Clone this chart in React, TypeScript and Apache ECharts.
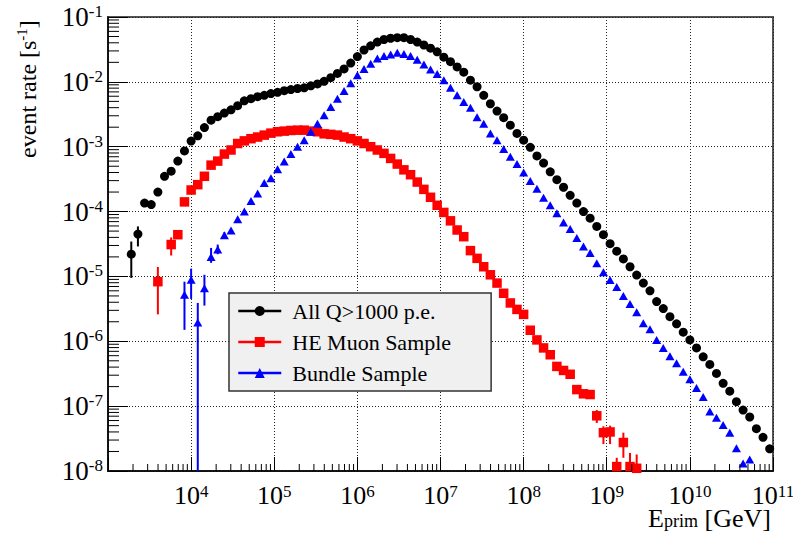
import React, { useEffect, useRef } from "react";
import * as echarts from "echarts";

// Histogram binning: 100 logarithmic bins between 1e3 and 1e11 GeV
const N_BINS = 100;
const LOG_E_MIN = 3;
const LOG_E_MAX = 11;
const X_MIN = 1e3;
const X_MAX = 1e11;
const Y_MIN = 1e-8;
const Y_MAX = 1e-1;

const BIN_CENTER_E = Array.from({ length: N_BINS }, (_, i) =>
  Math.pow(10, LOG_E_MIN + ((i + 0.5) * (LOG_E_MAX - LOG_E_MIN)) / N_BINS)
);

// All Q>1000 p.e. (first filled bin = 3)
const ALL_FIRST_BIN = 3;
const ALL_RATE = [
  2.2e-5, 4.5e-5, 1.35e-4, 1.28e-4, 2.0e-4, 3.5e-4, 4.2e-4, 6.0e-4, 8.6e-4, 1.22e-3,
  1.47e-3, 1.97e-3, 2.57e-3, 2.9e-3, 3.3e-3, 3.7e-3, 4.3e-3, 5.1e-3, 5.5e-3, 5.9e-3,
  6.2e-3, 6.6e-3, 6.9e-3, 7.3e-3, 7.6e-3, 7.9e-3, 8.1e-3, 8.7e-3, 9.3e-3, 1.02e-2,
  1.16e-2, 1.35e-2, 1.58e-2, 1.95e-2, 2.45e-2, 3.1e-2, 3.6e-2, 4.1e-2, 4.5e-2, 4.7e-2,
  4.8e-2, 4.8e-2, 4.5e-2, 4.1e-2, 3.7e-2, 3.3e-2, 2.9e-2, 2.4e-2, 2.05e-2, 1.7e-2,
  1.41e-2, 1.06e-2, 8.4e-3, 6.2e-3, 4.6e-3, 3.55e-3, 2.8e-3, 2.15e-3, 1.6e-3, 1.26e-3,
  9.8e-4, 7.2e-4, 5.6e-4, 4.1e-4, 3.1e-4, 2.37e-4, 1.78e-4, 1.35e-4, 1.0e-4, 7.9e-5,
  5.9e-5, 4.4e-5, 3.2e-5, 2.45e-5, 1.86e-5, 1.41e-5, 1.05e-5, 7.9e-6, 6.0e-6, 4.1e-6,
  3.2e-6, 2.4e-6, 1.86e-6, 1.38e-6, 1.05e-6, 7.9e-7, 5.75e-7, 4.4e-7, 3.2e-7, 2.25e-7,
  1.7e-7, 1.17e-7, 8.7e-8, 6.8e-8, 4.5e-8, 3.3e-8, 2.2e-8,
];
// [bin, low, high]
const ALL_ERR = [
  [3, 9.5e-6, 3.45e-5],
  [4, 2.9e-5, 5.9e-5],
  [5, 1.2e-4, 1.5e-4],
  [6, 1.15e-4, 1.42e-4],
];

// HE Muon Sample (first filled bin = 7)
const MUON_FIRST_BIN = 7;
const MUON_RATE = [
  8.3e-6, null, 3.1e-5, 4.4e-5, 1.41e-4, 2.15e-4, 2.6e-4, 3.5e-4, 5.2e-4, 6.0e-4,
  7.7e-4, 8.9e-4, 1.12e-3, 1.23e-3, 1.33e-3, 1.41e-3, 1.51e-3, 1.62e-3, 1.7e-3, 1.74e-3,
  1.78e-3, 1.8e-3, 1.8e-3, 1.74e-3, 1.7e-3, 1.58e-3, 1.55e-3, 1.51e-3, 1.41e-3, 1.33e-3,
  1.23e-3, 1.12e-3, 1.0e-3, 8.9e-4, 7.9e-4, 6.6e-4, 5.4e-4, 4.4e-4, 3.7e-4, 2.85e-4,
  2.2e-4, 1.66e-4, 1.25e-4, 9.7e-5, 7.2e-5, 5.2e-5, 4.1e-5, 2.5e-5, 1.9e-5, 1.41e-5,
  1.06e-5, 7.9e-6, 5.5e-6, 3.9e-6, 3.1e-6, 2.6e-6, 1.48e-6, 1.05e-6, 7.9e-7, 6.2e-7,
  4.1e-7, 3.55e-7, 3.1e-7, 1.8e-7, 1.55e-7, 1.51e-7, 7.1e-8, 3.9e-8, 4.0e-8, 1.17e-8,
  2.75e-8, 1.17e-8, 1.1e-8,
];
const MUON_ERR = [
  [7, 2.6e-6, 1.4e-5],
  [9, 2.1e-5, 4.0e-5],
  [10, 3.8e-5, 5.1e-5],
  [70, 1.6e-7, 2.0e-7],
  [72, 1.3e-7, 1.75e-7],
  [73, 5.5e-8, 8.7e-8],
  [74, 2.6e-8, 4.9e-8],
  [75, 2.6e-8, 5.0e-8],
  [76, 1e-9, 1.6e-8],
  [77, 1.6e-8, 3.9e-8],
  [78, 1e-9, 1.9e-8],
  [79, 1e-9, 1.8e-8],
];

// Bundle Sample (first filled bin = 11)
const BUNDLE_FIRST_BIN = 11;
const BUNDLE_RATE = [
  5.2e-6, 8.9e-6, 1.95e-6, 6.6e-6, 2.0e-5, 2.6e-5, 4.3e-5, 5.1e-5, 7.6e-5, 1.0e-4,
  1.45e-4, 1.9e-4, 2.75e-4, 3.25e-4, 4.5e-4, 5.9e-4, 7.7e-4, 1.0e-3, 1.26e-3, 1.7e-3,
  2.25e-3, 3.05e-3, 4.1e-3, 5.5e-3, 7.2e-3, 9.5e-3, 1.26e-2, 1.58e-2, 1.9e-2, 2.3e-2,
  2.5e-2, 2.65e-2, 2.8e-2, 2.7e-2, 2.5e-2, 2.2e-2, 1.86e-2, 1.55e-2, 1.32e-2, 1.06e-2,
  8.1e-3, 6.2e-3, 4.9e-3, 4.0e-3, 2.85e-3, 2.25e-3, 1.6e-3, 1.26e-3, 9.2e-4, 7.0e-4,
  5.4e-4, 4.0e-4, 2.95e-4, 2.25e-4, 1.64e-4, 1.25e-4, 9.4e-5, 6.8e-5, 5.4e-5, 3.9e-5,
  2.9e-5, 2.3e-5, 1.6e-5, 1.16e-5, 8.8e-6, 6.9e-6, 5.0e-6, 3.75e-6, 2.8e-6, 1.9e-6,
  1.53e-6, 1.05e-6, 7.9e-7, 5.9e-7, 4.6e-7, 3.4e-7, 2.6e-7, 1.9e-7, 1.38e-7, 8.3e-8,
  6.6e-8, 5.1e-8, 3.9e-8, 2.25e-8, 1.3e-8, 1.5e-8,
];
const BUNDLE_ERR = [
  [11, 1.5e-6, 8.3e-6],
  [12, 4.5e-6, 1.32e-5],
  [13, 1e-9, 3.9e-6],
  [14, 3.55e-6, 1.06e-5],
  [15, 1.62e-5, 2.75e-5],
  [16, 2.2e-5, 3.1e-5],
  [17, 3.8e-5, 4.8e-5],
];

const SERIES_NAMES = ["All Q>1000 p.e.", "HE Muon Sample", "Bundle Sample"];
const X_DECADES = [3, 4, 5, 6, 7, 8, 9, 10];
const Y_DECADES = [-8, -7, -6, -5, -4, -3, -2];
const MINOR_MULT = [2, 3, 4, 5, 6, 7, 8, 9];

const SERIF = "Liberation Serif";

function toPoints(first: number, rates: (number | null)[]) {
  const pts: number[][] = [];
  rates.forEach((r, k) => {
    if (r !== null) pts.push([BIN_CENTER_E[first + k], r]);
  });
  return pts;
}

function errSeries(color: string, rows: number[][]) {
  return {
    type: "custom",
    silent: true,
    clip: true,
    data: rows.map(([b, lo, hi]) => [BIN_CENTER_E[b], lo, hi]),
    encode: { x: 0, y: [1, 2] },
    renderItem: (_p: any, api: any) => {
      const x = api.value(0);
      const lo = Math.max(api.value(1), Y_MIN);
      const hi = Math.min(api.value(2), Y_MAX);
      const a = api.coord([x, lo]);
      const b = api.coord([x, hi]);
      return {
        type: "line",
        shape: { x1: a[0], y1: a[1], x2: b[0], y2: b[1] },
        style: { stroke: color, lineWidth: 2 },
      };
    },
  };
}

function minorTickSeries(axis: "x" | "y") {
  const vals: number[][] = [];
  const decs = axis === "x" ? X_DECADES : Y_DECADES;
  decs.forEach((d) =>
    MINOR_MULT.forEach((m) => {
      const v = m * Math.pow(10, d);
      vals.push(axis === "x" ? [v, Y_MIN] : [X_MIN, v]);
    })
  );
  return {
    type: "custom",
    silent: true,
    z: 5,
    data: vals,
    encode: { x: 0, y: 1 },
    renderItem: (_p: any, api: any) => {
      const p = api.coord([api.value(0), api.value(1)]);
      const shape =
        axis === "x"
          ? { x1: p[0], y1: p[1], x2: p[0], y2: p[1] - 7 }
          : { x1: p[0], y1: p[1], x2: p[0] + 11, y2: p[1] };
      return { type: "line", shape, style: { stroke: "#000", lineWidth: 1 } };
    },
  };
}

function expLabel(v: number) {
  const e = Math.round(Math.log10(v));
  return `{b|10}{s|${e}}`;
}

export default function App() {
  const ref = useRef<HTMLDivElement>(null);

  useEffect(() => {
    if (!ref.current) return;
    const chart = echarts.init(ref.current, undefined, { renderer: "svg" });

    const lineBase = {
      type: "line",
      showAllSymbol: true,
      connectNulls: false,
      lineStyle: { opacity: 0, width: 0 },
      emphasis: { disabled: true },
      z: 3,
    };

    chart.setOption({
      animation: false,
      backgroundColor: "#fff",
      textStyle: { fontFamily: SERIF, color: "#000" },
      grid: {
        left: 108,
        right: 20,
        top: 17,
        bottom: 63,
        containLabel: false,
        outerBoundsMode: "none",
        show: true,
        borderColor: "#555",
        borderWidth: 2,
        backgroundColor: "transparent",
      },
      legend: {
        data: SERIES_NAMES,
        orient: "vertical",
        left: 229,
        top: 293,
        backgroundColor: "#f0f0f0",
        borderColor: "#333",
        borderWidth: 1.5,
        padding: [7, 40, 7, 8],
        itemGap: 9,
        itemWidth: 43,
        itemHeight: 12.5,
        selectedMode: false,
        lineStyle: { opacity: 1, width: 2.5 },
        formatter: (name: string) => `{n|${name}}`,
        textStyle: {
          fontFamily: SERIF,
          fontSize: 22,
          color: "#000",
          rich: {
            n: { fontFamily: SERIF, fontSize: 22, lineHeight: 24, color: "#000", padding: [0, 0, 0, 6] },
          },
        },
      },
      xAxis: {
        type: "log",
        logBase: 10,
        min: X_MIN,
        max: X_MAX,
        splitNumber: 10,
        axisLine: { show: true, lineStyle: { color: "#000", width: 1.5 } },
        axisTick: { show: true, inside: true, length: 14, lineStyle: { color: "#000", width: 1 } },
        splitLine: { show: true, lineStyle: { color: "#222", type: [1, 2], width: 1 } },
        axisLabel: {
          margin: 12,
          fontFamily: SERIF,
          formatter: (v: number) => (v <= X_MIN * 1.01 ? "" : expLabel(v)),
          rich: {
            b: { fontFamily: SERIF, fontSize: 26, lineHeight: 24, color: "#000" },
            s: { fontFamily: SERIF, fontSize: 17, lineHeight: 10, verticalAlign: "top", color: "#000" },
          },
        },
        name: "{e|E}{sub|prim}{e| [GeV]}",
        nameLocation: "middle",
        nameGap: 35,
        nameMoveOverlap: false,
        nameTextStyle: {
          fontFamily: SERIF,
          padding: [0, 0, 0, 538],
          rich: {
            e: { fontFamily: SERIF, fontSize: 26, lineHeight: 24, color: "#000" },
            sub: { fontFamily: SERIF, fontSize: 18, lineHeight: 12, verticalAlign: "bottom", color: "#000" },
          },
        },
      },
      yAxis: {
        type: "log",
        logBase: 10,
        min: Y_MIN,
        max: Y_MAX,
        splitNumber: 10,
        axisLine: { show: true, lineStyle: { color: "#000", width: 1.5 } },
        axisTick: { show: true, inside: true, length: 20, lineStyle: { color: "#000", width: 1 } },
        splitLine: { show: true, lineStyle: { color: "#222", type: [1, 2], width: 1 } },
        axisLabel: {
          margin: 5,
          fontFamily: SERIF,
          formatter: (v: number) => expLabel(v),
          rich: {
            b: { fontFamily: SERIF, fontSize: 27, lineHeight: 28, color: "#000" },
            s: { fontFamily: SERIF, fontSize: 17, lineHeight: 14, verticalAlign: "top", color: "#000" },
          },
        },
        name: "{t|event rate [s}{u|-1}{t|]}",
        nameLocation: "middle",
        nameRotate: 90,
        nameGap: 66,
        nameMoveOverlap: false,
        nameTextStyle: {
          fontFamily: SERIF,
          padding: [0, 0, 0, 310],
          rich: {
            t: { fontFamily: SERIF, fontSize: 24, lineHeight: 28, color: "#000" },
            u: { fontFamily: SERIF, fontSize: 15, lineHeight: 14, verticalAlign: "top", color: "#000" },
          },
        },
      },
      series: [
        minorTickSeries("x"),
        minorTickSeries("y"),
        errSeries("#000", ALL_ERR),
        {
          ...lineBase,
          name: SERIES_NAMES[0],
          data: toPoints(ALL_FIRST_BIN, ALL_RATE),
          symbol: "circle",
          symbolSize: 9,
          itemStyle: { color: "#000" },
        },
        errSeries("#ff0000", MUON_ERR),
        {
          ...lineBase,
          name: SERIES_NAMES[1],
          data: toPoints(MUON_FIRST_BIN, MUON_RATE),
          symbol: "rect",
          symbolSize: 9.5,
          itemStyle: { color: "#ff0000" },
        },
        errSeries("#0000ff", BUNDLE_ERR),
        {
          ...lineBase,
          name: SERIES_NAMES[2],
          data: toPoints(BUNDLE_FIRST_BIN, BUNDLE_RATE),
          symbol: "triangle",
          symbolSize: [9, 8],
          itemStyle: { color: "#0000ff" },
        },
      ],
    });

    return () => chart.dispose();
  }, []);

  return (
    <div
      ref={ref}
      style={{ position: "fixed", left: 0, top: 0, width: 793, height: 534, background: "#fff" }}
    />
  );
}
